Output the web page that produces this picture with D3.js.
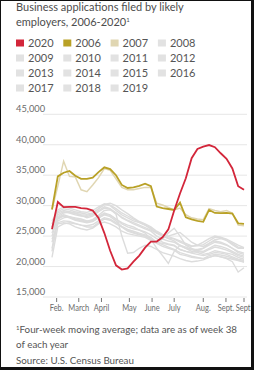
<!DOCTYPE html>
<head>
    <script src="https://d3js.org/d3.v7.min.js"></script>
    <style>
        body {margin: 0; background: #fff;}
        svg {display: block; font-family: Lato, sans-serif;}
        .grid line {stroke: #e6e6e6; stroke-width: 1;}
        .ylab {font-size: 9.3px; fill: #6b6b6b;}
        .xlab {font-size: 10px; fill: #6b6b6b;}
        .note {font-size: 9.8px; fill: #555;}
        .title {font-size: 11px; fill: #4d4d4d;}
        .legend text {font-size: 11px; fill: #555;}
    </style>
</head>
<body>
</body>
<script>
  const width = 254,
        height = 370;

  // weeks 5 .. 38
  const weeks = d3.range(5, 39);

  const yTicks = [15000, 20000, 25000, 30000, 35000, 40000, 45000];
  const monthTicks = [5.8, 9.6, 13.5, 18.3, 22.2, 26, 31, 34.9, 38];
  const monthLabels = ["Feb.", "March", "April", "May", "June", "July", "Aug.", "Sept.", "Sept."];

  const legendYears = ["2020", "2006", "2007", "2008", "2009", "2010", "2011", "2012",
                       "2013", "2014", "2015", "2016", "2017", "2018", "2019"];

  const y2020 = [26150, 30600, 29750, 29800, 29800, 29600, 29500, 29200, 28000, 25500,
                 22600, 20200, 19500, 19700, 20800, 21800, 23100, 24100, 24100, 24800,
                 26100, 29200, 32000, 34500, 37800, 39300, 39700, 39950, 39600, 38600,
                 37700, 36100, 33200, 32600];
  const y2006 = [29400, 34800, 35400, 35700, 34900, 34400, 34400, 34600, 35500, 36300,
                 36000, 35000, 33400, 32900, 33000, 33250, 33600, 33200, 29850, 29600,
                 29450, 29300, 30500, 28100, 27750, 27500, 27350, 29300, 28800, 28770,
                 28800, 28700, 27100, 27000];
  const y2007 = [29300, 33200, 37300, 34800, 34700, 32600, 32300, 33400, 34600, 36100,
                 35800, 34400, 33000, 32600, 32600, 32800, 33000, 33000, 30400, 30100,
                 29700, 29300, 29600, 28500, 28000, 27800, 27700, 29500, 29200, 29000,
                 29200, 28800, 26800, 26700];

  const y2008 = [27500, 29000, 29500, 29300, 29000, 28800, 28600, 28800, 29500, 30200,
                 30000, 29200, 28500, 28000, 27500, 27200, 26800, 26300, 25500, 25000,
                 24600, 24200, 23500, 23000, 22500, 22300, 22000, 22200, 22600, 22400,
                 22200, 22000, 21500, 21200];
  const y2009 = [21500, 26500, 27000, 27200, 27000, 26800, 26500, 26500, 27200, 27800,
                 27600, 27000, 26500, 26000, 25600, 25300, 25000, 24500, 24000, 23600,
                 23200, 22800, 22300, 22000, 21700, 21500, 21300, 21500, 21800, 21600,
                 21400, 21200, 21000, 20800];
  const y2010 = [23000, 27500, 28000, 28200, 28000, 27800, 27500, 27600, 28200, 28800,
                 28500, 27800, 27000, 26500, 26200, 26000, 25700, 25200, 24600, 24000,
                 23700, 23500, 22800, 22500, 22300, 22600, 23000, 23800, 24200, 24000,
                 23600, 23000, 22300, 22000];
  const y2011 = [25000, 28000, 28500, 28200, 27800, 27500, 27300, 27500, 28000, 28500,
                 28200, 27500, 26500, 25800, 25500, 25200, 25000, 24500, 24000, 23800,
                 23600, 23400, 22800, 22500, 22200, 22000, 21800, 22000, 22300, 22200,
                 22000, 21600, 21200, 21000];
  const y2012 = [26500, 28500, 29000, 28800, 28500, 28300, 28200, 28500, 29200, 29800,
                 29500, 28800, 28000, 27500, 27000, 26600, 26200, 25800, 25000, 24500,
                 24200, 24000, 23400, 23000, 22800, 22800, 23000, 23500, 24000, 23800,
                 23500, 23000, 22500, 22200];
  const y2013 = [24500, 27000, 27200, 27000, 26500, 26200, 26000, 26300, 27000, 27300,
                 27000, 26500, 25800, 25400, 25200, 25000, 24800, 24300, 23800, 23300,
                 23000, 22700, 22000, 21800, 21500, 21400, 21300, 21800, 22000, 21900,
                 21700, 21400, 21000, 20700];
  const y2014 = [26000, 28200, 28800, 29000, 28700, 28400, 28000, 28300, 29000, 29600,
                 29400, 28600, 25000, 22200, 22300, 23000, 23500, 23300, 22800, 22300,
                 22000, 21700, 21300, 21000, 20800, 20900, 21100, 21500, 21800, 21600,
                 21300, 20800, 19100, 19800];
  const y2015 = [22500, 27800, 28300, 28000, 27600, 27400, 27200, 27400, 28000, 28600,
                 28400, 27800, 27200, 26800, 26500, 26000, 25500, 24500, 23000, 21800,
                 20500, 22500, 23500, 23200, 22800, 22500, 22300, 22800, 23200, 23000,
                 22700, 22300, 21800, 21500];
  const y2016 = [27000, 29300, 29800, 29600, 29300, 29000, 28900, 29200, 29800, 30300,
                 30100, 29500, 28800, 28300, 27800, 27300, 26800, 26200, 25600, 25000,
                 24700, 24500, 24000, 23600, 23300, 23500, 24000, 24600, 25000, 24800,
                 24300, 23600, 23000, 23000];
  const y2017 = [24000, 27200, 27500, 27400, 27100, 26800, 26700, 26900, 27500, 28000,
                 27800, 27200, 26600, 26100, 25800, 25500, 25200, 24800, 24000, 24500,
                 25500, 26300, 25000, 23500, 23000, 22600, 22500, 23000, 23500, 23300,
                 23000, 22500, 22000, 21700];
  const y2018 = [25500, 28000, 28300, 28100, 27800, 27600, 27400, 27700, 28400, 29200,
                 29300, 28800, 28100, 27600, 27200, 26800, 26400, 26000, 25500, 25200,
                 25000, 25300, 25600, 24800, 24000, 23500, 23300, 23800, 24400, 24600,
                 24300, 23800, 23200, 23000];
  const y2019 = [26500, 28800, 29200, 29000, 28800, 28500, 28400, 28700, 29500, 30200,
                 30400, 30000, 29300, 28700, 28000, 27400, 27000, 26500, 25800, 25300,
                 24900, 24600, 24200, 23800, 23400, 23400, 23600, 24200, 24800, 24800,
                 24500, 24000, 23500, 23100];

  const greyYears = [y2008, y2009, y2010, y2011, y2012, y2013, y2014,
                     y2015, y2016, y2017, y2018, y2019];

  const red = "#d3263a", gold = "#b9a126", tan = "#e0d6b2", grey = "#dcdcdc";
  const legendColors = [red, gold, tan].concat(d3.range(12).map(() => "#e2e2e2"));

  const x = d3.scaleLinear().domain([5, 38]).range([52, 244]);
  const y = d3.scaleLinear().domain([15000, 45000]).range([297, 114.3]);

  const svg = d3.select("body").append("svg")
          .attr("width", width)
          .attr("height", height);

  // title
  svg.append("text").attr("class", "title").attr("x", 16).attr("y", 11)
    .text("Business applications filed by likely");
  const t2 = svg.append("text").attr("class", "title").attr("x", 16).attr("y", 25.5)
    .text("employers, 2006-2020");
  t2.append("tspan").attr("dy", -4).style("font-size", "6px").text("1");

  // legend
  const legend = svg.append("g").attr("class", "legend")
    .selectAll("g").data(legendYears)
    .enter().append("g")
      .attr("transform", (d, i) => `translate(${ 16 + (i % 4) * 47.3 }, ${ 46.5 + Math.floor(i / 4) * 15 })`);
  legend.append("rect").attr("x", 0).attr("y", -7).attr("width", 8).attr("height", 7)
    .attr("fill", (d, i) => legendColors[i]);
  legend.append("text").attr("x", 12).attr("y", 0).text(d => d);

  // grid + y labels
  const grid = svg.append("g").attr("class", "grid");
  grid.selectAll("line").data(yTicks).enter().append("line")
    .attr("x1", 43).attr("x2", 247)
    .attr("y1", d => y(d)).attr("y2", d => y(d));
  svg.selectAll(".ylab").data(yTicks).enter().append("text")
    .attr("class", "ylab")
    .attr("x", 16).attr("y", d => y(d) - 2)
    .text(d => d3.format(",")(d));

  // x ticks
  const xt = svg.append("g").selectAll("g").data(monthTicks)
    .enter().append("g")
      .attr("transform", d => `translate(${ x(d) }, 0)`);
  xt.append("line").attr("y1", 298).attr("y2", 302).attr("stroke", "#777");
  xt.append("text").attr("class", "xlab")
    .attr("text-anchor", "middle")
    .attr("transform", "translate(0, 310.5) scale(0.75, 1)")
    .text((d, i) => monthLabels[i]);

  // lines
  const line = d3.line().x((d, i) => x(weeks[i])).y(d => y(d));

  svg.append("g").selectAll("path").data(greyYears).enter().append("path")
    .attr("d", line).attr("fill", "none")
    .attr("stroke", grey).attr("stroke-width", 1.4);

  svg.append("path").datum(y2007).attr("d", line).attr("fill", "none")
    .attr("stroke", tan).attr("stroke-width", 1.5);
  svg.append("path").datum(y2006).attr("d", line).attr("fill", "none")
    .attr("stroke", gold).attr("stroke-width", 1.8);
  svg.append("path").datum(y2020).attr("d", line).attr("fill", "none")
    .attr("stroke", red).attr("stroke-width", 1.8);

  // notes
  const n1 = svg.append("text").attr("class", "note").attr("x", 16).attr("y", 332.5);
  n1.append("tspan").attr("dy", -3).style("font-size", "6px").text("1");
  n1.append("tspan").attr("dy", 3).text("Four-week moving average; data are as of week 38");
  svg.append("text").attr("class", "note").attr("x", 16).attr("y", 348).text("of each year");
  svg.append("text").attr("class", "note").attr("x", 16).attr("y", 363.5).text("Source: U.S. Census Bureau");

  // frame
  const frame = svg.append("g").attr("fill", "#111");
  frame.append("rect").attr("x", 0).attr("y", 0).attr("width", width).attr("height", 1);
  frame.append("rect").attr("x", 0).attr("y", 0).attr("width", 1).attr("height", height);
  frame.append("rect").attr("x", width - 3).attr("y", 0).attr("width", 3).attr("height", height);
  frame.append("rect").attr("x", 0).attr("y", height - 3).attr("width", width).attr("height", 3);
</script>
